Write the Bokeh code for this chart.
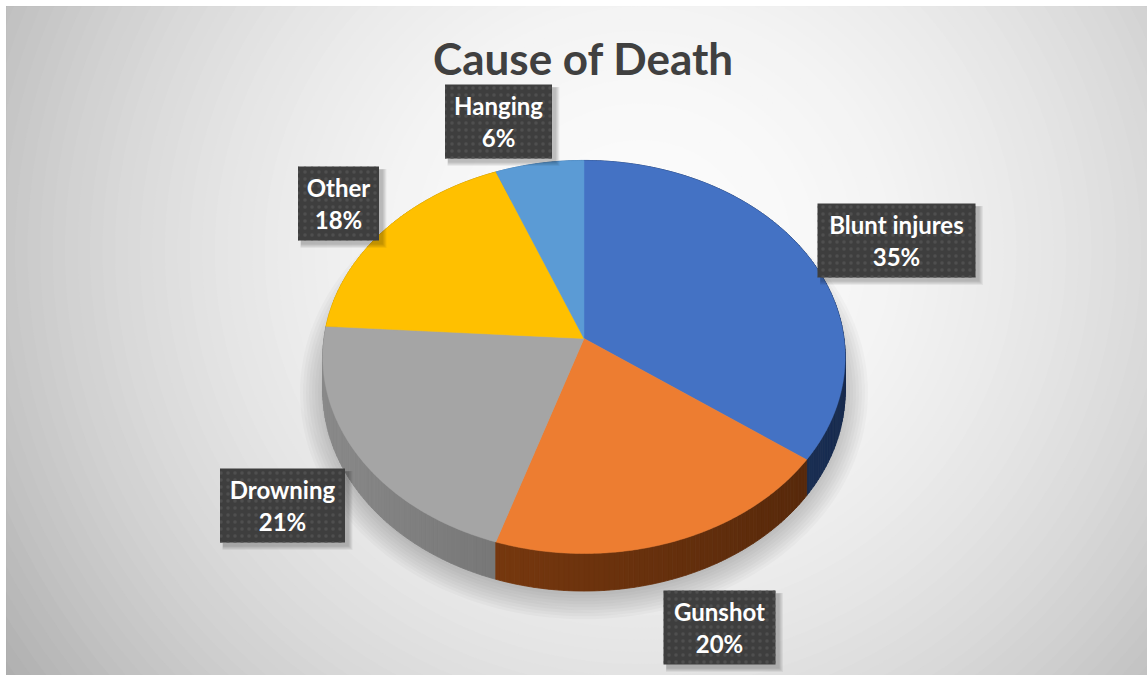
import numpy as np
from bokeh.plotting import figure
from bokeh.models import Range1d, ColumnDataSource
from bokeh.embed import file_html
from bokeh.resources import INLINE
from bokeh.core.properties import value

# ---------------- data ----------------
title_text = "Cause of Death"
categories = ["Blunt injures", "Gunshot", "Drowning", "Other", "Hanging"]
values = [35, 20, 21, 18, 6]
top_colors = ["#4472C4", "#ED7D31", "#A5A5A5", "#FFC000", "#5B9BD5"]
side_colors = ["#203A68", "#6E340E", "#6F6F6F", "#A07800", "#3D6FA0"]

# ---------------- layout (screen px) ----------------
label_cx = [896, 719, 282, 338, 498]
label_cy = [240, 627, 505, 203, 121]
label_w = [158, 112, 125, 81, 107]
label_h = 74

W, H = 1147, 675
p = figure(width=W, height=H, x_range=Range1d(6, W), y_range=Range1d(H, 6),
           output_backend="svg", toolbar_location=None,
           min_border_left=6, min_border_top=6, min_border_right=0, min_border_bottom=0)
p.axis.visible = False
p.grid.visible = False
p.outline_line_color = "#BFBFBF"
p.background_fill_color = "#BDBDBD"
p.border_fill_color = "#FFFFFF"

# ---------------- background radial gradient ----------------
gx, gy, gsx, gsy = 640.0, 250.0, 700.0, 680.0
ts = np.linspace(0, 2 * np.pi, 120)
bg_xs, bg_ys, bg_cols = [], [], []
for d in np.linspace(1.25, 0.02, 70):
    c = int(np.clip(252 - 62 * d ** 2, 0, 255))
    bg_xs.append(list(gx + gsx * d * np.cos(ts)))
    bg_ys.append(list(gy + gsy * d * np.sin(ts)))
    bg_cols.append("#%02x%02x%02x" % (c, c, c))
p.patches(bg_xs, bg_ys, fill_color=bg_cols, line_color=None)

# ---------------- pie geometry ----------------
CX, CY, RX, RY, K, DEPTH = 583.5, 338.0, 260.0, 194.8, 0.094, 34.0


def proj(theta_deg, drop=0.0):
    t = np.radians(theta_deg)
    u = np.sin(t)
    v = -np.cos(t)
    f = 1.0 / (1.0 - K * v)
    return CX + RX * u * f, CY + RY * v * f + drop * f


# soft shadow beneath pie
sh_xs, sh_ys = [], []
tt = np.linspace(0, 360, 181)
for e in range(0, 25, 3):
    sx = CX + (RX + e) * np.sin(np.radians(tt))
    sy = 392 + (RY + 8 + e) * (-np.cos(np.radians(tt)))
    sh_xs.append(list(sx))
    sh_ys.append(list(sy))
p.patches(sh_xs, sh_ys, fill_color="black", fill_alpha=0.025, line_color=None)

total = float(sum(values))
starts, ends = [], []
acc = 0.0
for v in values:
    starts.append(acc / total * 360.0)
    acc += v
    ends.append(acc / total * 360.0)


def shade(hexcol, fac):
    r, g, b = int(hexcol[1:3], 16), int(hexcol[3:5], 16), int(hexcol[5:7], 16)
    return "#%02x%02x%02x" % tuple(int(np.clip(c * fac, 0, 255)) for c in (r, g, b))


# side (extrusion) quads
quads = []
for i in range(len(values)):
    a = starts[i]
    while a < ends[i] - 1e-9:
        b = min(a + 1.0, ends[i])
        x0, y0 = proj(a)
        x1, y1 = proj(b)
        x2, y2 = proj(b, DEPTH)
        x3, y3 = proj(a, DEPTH)
        mid = np.radians((a + b) / 2)
        fac = 1.0 - 0.25 * np.sin(mid)
        vdepth = -np.cos(mid)
        quads.append((vdepth, [x0, x1, x2, x3], [y0, y1, y2, y3], shade(side_colors[i], fac)))
        a = b
quads.sort(key=lambda q: q[0])
p.patches([q[1] for q in quads], [q[2] for q in quads],
          fill_color=[q[3] for q in quads], line_color=[q[3] for q in quads], line_width=0.8)

# top faces
top_xs, top_ys = [], []
for i in range(len(values)):
    ang = np.linspace(starts[i], ends[i], max(int((ends[i] - starts[i]) * 2), 4))
    px, py = proj(ang)
    top_xs.append([CX] + list(px))
    top_ys.append([CY] + list(py))
p.patches(top_xs, top_ys, fill_color=top_colors, line_color=top_colors, line_width=0.5)

# ---------------- labels ----------------
pct_text = ["%d%%" % v for v in values]
lab = ColumnDataSource(dict(x=label_cx, y=label_cy, w=label_w,
                            y1=[c - 16 for c in label_cy], y2=[c + 16 for c in label_cy],
                            name=categories, pct=pct_text))
for k in range(1, 6):
    p.rect(x=[c + 3 + k * 0.4 for c in label_cx], y=[c + 3 + k * 0.4 for c in label_cy],
           width=[w + k for w in label_w], height=label_h + k,
           fill_color="black", fill_alpha=0.05, line_color=None)
p.rect(x="x", y="y", width="w", height=label_h, source=lab,
       fill_color="#3E3E3E", line_color=None,
       hatch_pattern=".", hatch_color="#4F4F4F", hatch_scale=7, hatch_weight=0.9)
p.text(x="x", y="y1", text="name", source=lab,
       text_align="center", text_baseline="middle", text_color="white",
       text_font=value("Lato"), text_font_style="bold", text_font_size="24px")
p.text(x="x", y="y2", text="pct", source=lab,
       text_align="center", text_baseline="middle", text_color="white",
       text_font=value("Lato"), text_font_style="bold", text_font_size="24px")

# ---------------- title ----------------
p.text(x=[583], y=[57], text=[title_text], text_align="center", text_baseline="middle",
       text_color="#404040", text_font=value("Lato"), text_font_style="bold",
       text_font_size="44px")

open("out.html", "w").write(file_html(p, INLINE))
